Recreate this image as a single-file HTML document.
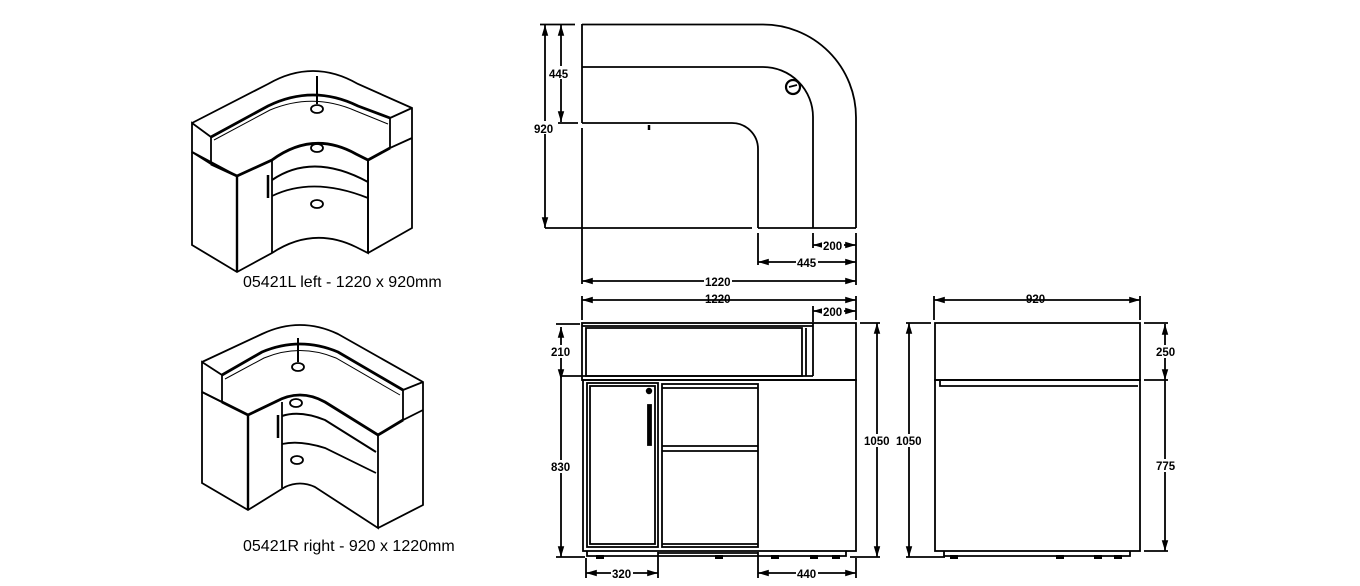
<!DOCTYPE html>
<html><head><meta charset="utf-8"><style>
html,body{margin:0;padding:0;background:#fff;}
svg{display:block;}
text{font-family:"Liberation Sans",sans-serif;fill:#000;}
.d{font-size:11.5px;font-weight:bold;}
.l{font-size:16px;}
</style></head><body>
<svg width="1360" height="586" viewBox="0 0 1360 586" xmlns="http://www.w3.org/2000/svg">
<defs>
<marker id="a" viewBox="0 0 10 10" refX="10" refY="5" markerWidth="6" markerHeight="6" orient="auto-start-reverse"><path d="M0,2 L10,5 L0,8 z" fill="#000"/></marker>
</defs>
<g fill="none" stroke="#000" stroke-width="1.8">
<!-- PLAN VIEW -->
<path d="M582,24.5 L763,24.5 A93,93 0 0 1 856,117.5 L856,228"/>
<path d="M582,67 L763,67 A50,50 0 0 1 813,117 L813,228"/>
<path d="M582,123 L732,123 A26,26 0 0 1 758,149 L758,228"/>
<path d="M582,24 L582,123 M582,128 L582,284"/>
<path d="M545,228 L752,228 M758,228 L856,228"/>
<circle cx="793" cy="87" r="7" stroke-width="2.2"/>
<path d="M789,87 L797,85"/>
<path d="M649,125 L649,130" stroke-width="2.5"/>
<path d="M540,24.5 L575,24.5 M558,123 L578,123"/>
<path d="M545,25 L545,228" marker-start="url(#a)" marker-end="url(#a)"/>
<path d="M561,25 L561,122" marker-start="url(#a)" marker-end="url(#a)"/>
<path d="M758,233 L758,265 M813,233 L813,248 M856,233 L856,285"/>
<path d="M813,245 L856,245" marker-start="url(#a)" marker-end="url(#a)"/>
<path d="M758,262 L856,262" marker-start="url(#a)" marker-end="url(#a)"/>
<path d="M582,281 L856,281" marker-start="url(#a)" marker-end="url(#a)"/>

<!-- FRONT ELEVATION -->
<path d="M582,300 L856,300" marker-start="url(#a)" marker-end="url(#a)"/>
<path d="M582,296 L582,320 M856,296 L856,320"/>
<path d="M813,311 L856,311" marker-start="url(#a)" marker-end="url(#a)"/>
<path d="M813,306 L813,322"/>
<rect x="582" y="323" width="274" height="57"/>
<path d="M582,326 L813,326"/>
<path d="M586,328 L802,328 L802,376 L586,376 Z"/>
<path d="M806,328 L806,376 M813,323 L813,376 M560,376 L813,376"/>
<rect x="583" y="380" width="273" height="171"/>
<path d="M587,551 L587,556 L846,556 L846,551"/>
<path d="M658,553 L758,553"/>
<rect x="587" y="383" width="71" height="164"/>
<rect x="590" y="386" width="65" height="158"/>
<circle cx="649" cy="391" r="2.3" fill="#000"/>
<rect x="648" y="405" width="3" height="40" fill="#000"/>
<rect x="662" y="384" width="96" height="163"/>
<path d="M662,388 L758,388 M662,446 L758,446 M662,451 L758,451 M662,544 L758,544"/>
<g fill="#000" stroke="none">
<rect x="596" y="555" width="8" height="4"/><rect x="715" y="555" width="8" height="4"/>
<rect x="771" y="555" width="8" height="4"/><rect x="810" y="555" width="8" height="4"/><rect x="832" y="555" width="8" height="4"/>
</g>
<path d="M561,327 L561,380" marker-start="url(#a)" marker-end="url(#a)"/>
<path d="M561,380 L561,557" marker-end="url(#a)"/>
<path d="M556,557 L585,557 M556,324 L580,324"/>
<path d="M877,323 L877,557" marker-start="url(#a)" marker-end="url(#a)"/>
<path d="M860,323 L880,323 M850,557 L880,557"/>
<path d="M586,573 L658,573" marker-start="url(#a)" marker-end="url(#a)"/>
<path d="M586,558 L586,578 M658,552 L658,578"/>
<path d="M758,573 L856,573" marker-start="url(#a)" marker-end="url(#a)"/>
<path d="M758,552 L758,578 M856,558 L856,578"/>

<!-- SIDE ELEVATION -->
<path d="M934,300 L1140,300" marker-start="url(#a)" marker-end="url(#a)"/>
<path d="M934,296 L934,320 M1140,296 L1140,320"/>
<rect x="935" y="323" width="205" height="57"/>
<rect x="935" y="380" width="205" height="171"/>
<path d="M940,381 L940,386 L1138,386"/>
<path d="M944,551 L944,556 L1130,556 L1130,551"/>
<g fill="#000" stroke="none">
<rect x="950" y="555" width="8" height="4"/><rect x="1056" y="555" width="8" height="4"/>
<rect x="1094" y="555" width="8" height="4"/><rect x="1114" y="555" width="8" height="4"/>
</g>
<path d="M909,323 L909,557" marker-start="url(#a)" marker-end="url(#a)"/>
<path d="M906,323 L931,323 M906,557 L945,557"/>
<path d="M1165,324 L1165,380" marker-start="url(#a)" marker-end="url(#a)"/>
<path d="M1165,380 L1165,551" marker-end="url(#a)"/>
<path d="M1144,323 L1168,323 M1144,380 L1168,380 M1144,551 L1168,551"/>

<!-- LEFT ISO -->
<path d="M192,123 L268,84 Q313,58 358,84 L412,108 L412,228 L368,253"/>
<path d="M192,123 L211,137 L211,164 L192,152 Z"/>
<path d="M390,118 L412,108 M390,118 L390,148 L412,138"/>
<path d="M211,137 L268,106 Q313,84 358,106 L390,118" stroke-width="2.8"/>
<path d="M214,140 L270,110 Q313,92 356,111 L388,124" stroke-width="1"/>
<path d="M192,152 L192,245 L237,272 L272,253 Q313,226 356,247 L368,253 L368,160"/>
<path d="M211,164 L237,176 L272,160 Q313,130 356,154 L368,160 L390,148" stroke-width="2.8"/>
<path d="M192,152 L237,176" stroke-width="2"/>
<path d="M237,176 L237,272" stroke-width="2.4"/>
<path d="M272,160 L272,253 M368,160 L368,253"/>
<path d="M272,180 Q313,152 368,182" stroke-width="2"/>
<path d="M272,196 Q313,176 368,198"/>
<path d="M268,175 L268,198" stroke-width="2.5"/>
<path d="M317,76 L317,104" stroke-width="2"/>
<ellipse cx="317" cy="109" rx="6" ry="4"/>
<ellipse cx="317" cy="148" rx="6" ry="4"/>
<ellipse cx="317" cy="204" rx="6" ry="4"/>

<!-- RIGHT ISO -->
<path d="M202,362 L262,334 Q300,316 338,334 L423,382 L423,505 L378,528"/>
<path d="M202,362 L222,375 L222,402 L202,392 Z"/>
<path d="M403,390 L423,382 M403,390 L403,420 L423,410"/>
<path d="M222,375 L262,352 Q300,336 338,352 L403,390" stroke-width="2.8"/>
<path d="M225,379 L264,358 Q300,343 336,358 L400,395" stroke-width="1"/>
<path d="M202,392 L202,483 L248,510 L285,487 Q300,480 315,487 L378,528 L378,435"/>
<path d="M222,402 L248,415 L275,402 Q300,388 325,402 L378,435 L403,420" stroke-width="2.8"/>
<path d="M202,392 L248,415" stroke-width="2"/>
<path d="M248,415 L248,510" stroke-width="2.4"/>
<path d="M282,402 L282,488"/>
<path d="M282,416 Q300,410 325,420 L376,452" stroke-width="2"/>
<path d="M282,444 Q300,440 325,448 L376,473"/>
<path d="M278,415 L278,438" stroke-width="2.5"/>
<path d="M298,338 L298,362" stroke-width="2"/>
<ellipse cx="298" cy="367" rx="6" ry="4"/>
<ellipse cx="296" cy="403" rx="6" ry="4"/>
<ellipse cx="297" cy="460" rx="6" ry="4"/>
</g>

<g class="d">
<rect x="548" y="66" width="22" height="13" fill="#fff"/><text x="549" y="78">445</text>
<rect x="533" y="121" width="22" height="13" fill="#fff"/><text x="534" y="133">920</text>
<rect x="822" y="239" width="22" height="13" fill="#fff"/><text x="823" y="250">200</text>
<rect x="796" y="256" width="22" height="13" fill="#fff"/><text x="797" y="267">445</text>
<rect x="704" y="275" width="28" height="13" fill="#fff"/><text x="705" y="286">1220</text>
<text x="705" y="303">1220</text>
<rect x="822" y="305" width="22" height="13" fill="#fff"/><text x="823" y="316">200</text>
<rect x="550" y="345" width="20" height="13" fill="#fff"/><text x="551" y="356">210</text>
<rect x="550" y="460" width="20" height="13" fill="#fff"/><text x="551" y="471">830</text>
<rect x="863" y="434" width="28" height="13" fill="#fff"/><text x="864" y="445">1050</text>
<rect x="611" y="567" width="22" height="13" fill="#fff"/><text x="612" y="578">320</text>
<rect x="796" y="567" width="22" height="13" fill="#fff"/><text x="797" y="578">440</text>
<text x="1026" y="303">920</text>
<rect x="895" y="434" width="28" height="13" fill="#fff"/><text x="896" y="445">1050</text>
<rect x="1155" y="345" width="22" height="13" fill="#fff"/><text x="1156" y="356">250</text>
<rect x="1155" y="459" width="22" height="13" fill="#fff"/><text x="1156" y="470">775</text>
</g>
<text class="l" x="243" y="287">05421L left - 1220 x 920mm</text>
<text class="l" x="243" y="551">05421R right - 920 x 1220mm</text>
</svg>
</body></html>
